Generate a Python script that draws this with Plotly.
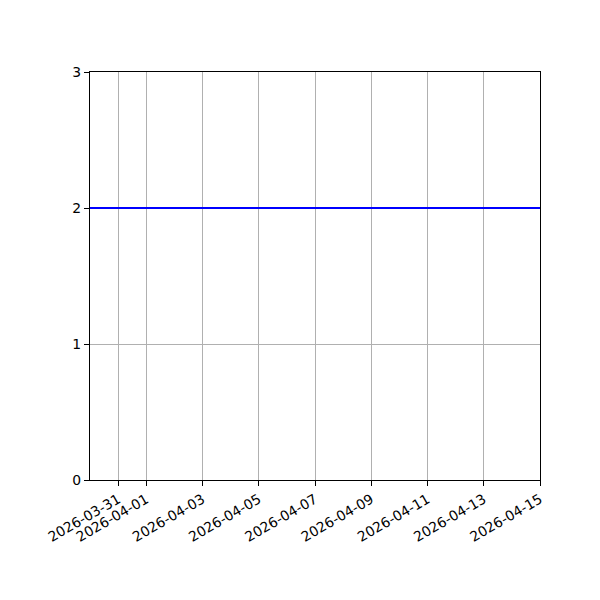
import plotly.graph_objects as go

# Dados
dates = ["2026-03-30", "2026-03-31", "2026-04-01", "2026-04-02", "2026-04-03",
         "2026-04-04", "2026-04-05", "2026-04-06", "2026-04-07", "2026-04-08",
         "2026-04-09", "2026-04-10", "2026-04-11", "2026-04-12", "2026-04-13",
         "2026-04-14", "2026-04-15"]
values = [2] * len(dates)

x_ticks = ["2026-03-31", "2026-04-01", "2026-04-03", "2026-04-05", "2026-04-07",
           "2026-04-09", "2026-04-11", "2026-04-13", "2026-04-15"]
y_ticks = [0, 1, 2, 3]

fig = go.Figure()

fig.add_trace(go.Scatter(
    x=dates,
    y=values,
    mode='lines',
    line=dict(color='#0000ff', width=2),
    showlegend=False,
    cliponaxis=True
))

axis_common = dict(
    showline=True,
    linecolor='black',
    linewidth=1.1,
    mirror=True,
    ticks='outside',
    ticklen=5,
    tickwidth=1.1,
    tickcolor='black',
    showgrid=True,
    gridcolor='#b0b0b0',
    gridwidth=1.1,
    zeroline=False,
    tickfont=dict(family='DejaVu Sans', size=13.9, color='black'),
)

# página tem margem de 8px no body, compensar aqui
fig.update_layout(
    width=600,
    height=600,
    margin=dict(l=82, r=68, t=64, b=128),
    plot_bgcolor='white',
    paper_bgcolor='white',
    xaxis=dict(
        type='date',
        range=["2026-03-30", "2026-04-15"],
        tickvals=x_ticks,
        ticktext=x_ticks,
        tickangle=-30,
        **axis_common
    ),
    yaxis=dict(
        range=[0, 3],
        tickvals=y_ticks,
        ticktext=[str(v) for v in y_ticks],
        **axis_common
    ),
)

fig.write_html("out.html")
